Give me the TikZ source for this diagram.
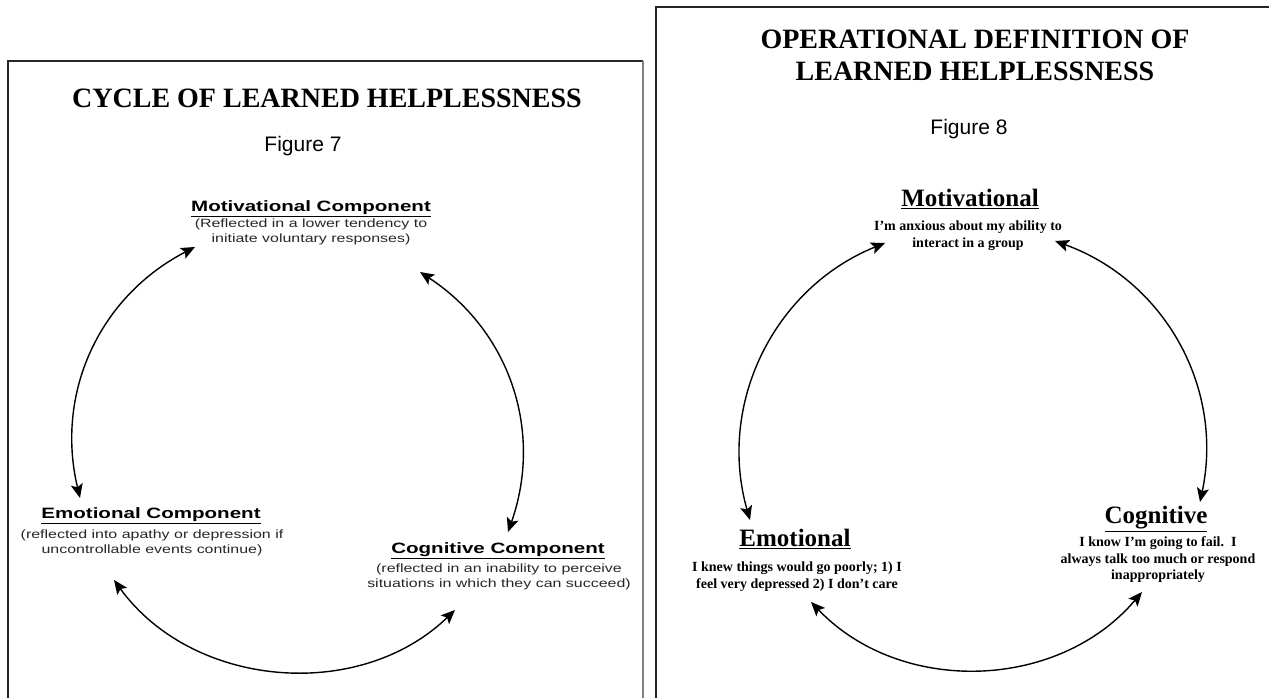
\documentclass[tikz,border=0pt]{standalone}
\usepackage{fontspec}
\usetikzlibrary{arrows.meta}
\setmainfont{Liberation Serif}
\setsansfont{Liberation Sans}
\newfontfamily\headsans[FakeStretch=1.37]{Liberation Sans}
\newfontfamily\bodysans[FakeStretch=1.33]{Liberation Sans}
\newfontfamily\plainsans{Liberation Sans}

\begin{document}
\begin{tikzpicture}[x=1pt,y=1pt,
  every node/.style={inner sep=0pt, outer sep=0pt},
  titletext/.style={font=\bfseries\fontsize{28}{32}\selectfont, align=center, anchor=base},
  figlabel/.style={font=\plainsans\fontsize{21}{21}\selectfont, anchor=base},
  sanshead/.style={font=\headsans\bfseries\fontsize{15}{15}\selectfont, anchor=base},
  sansbody/.style={font=\bodysans\fontsize{12}{15}\selectfont, align=center, anchor=base, text=black!85},
  serifhead/.style={font=\bfseries\fontsize{25}{25}\selectfont, anchor=base},
  serifbody/.style={font=\bfseries\fontsize{14}{16.5}\selectfont, align=center, anchor=base},
  cyc/.style={line width=1.4pt, {Stealth[length=14pt,width=12pt,inset=3pt]}-{Stealth[length=14pt,width=12pt,inset=3pt]}},
]
\useasboundingbox (0,0) rectangle (1269,698);

% panel frames
\draw[line width=1.2pt, black!85] (8,-3) -- (8,637) -- (643,637);
\draw[line width=2pt, black!50] (643,637) -- (643,-3);
\draw[line width=1.3pt, black!85] (656,-3) -- (656,691) -- (1272,691);

% ---------------- Figure 7 ----------------
% (multi-line nodes are placed by the baseline of their last line)
\node[titletext] (t7) at (327,590) {CYCLE OF LEARNED HELPLESSNESS};
\node[figlabel] (f7) at (303,546) {Figure 7};

\node[sanshead] (mh7) at (311,486) {\underline{Motivational Component}};
\node[sansbody] (mb7) at (311,455) {(Reflected in a lower tendency to\\initiate voluntary responses)};

\node[sanshead] (eh7) at (151,179) {\underline{Emotional Component}};
\node[sansbody] (eb7) at (152,144) {(reflected into apathy or depression if\\uncontrollable events continue)};

\node[sanshead] (ch7) at (498,144) {\underline{Cognitive Component}};
\node[sansbody] (cb7) at (499,110) {(reflected in an inability to perceive\\situations in which they can succeed)};

\coordinate (m7l) at (195,451);
\coordinate (m7r) at (420,426);
\coordinate (e7t) at (80,200);
\coordinate (c7t) at (508,166);
\coordinate (e7b) at (114,118);
\coordinate (c7b) at (455,88);

\draw[cyc] (m7l) to[bend right=38] (e7t);
\draw[cyc] (m7r) to[bend left=38] (c7t);
\draw[cyc] (e7b) to[bend right=49] (c7b);

% ---------------- Figure 8 ----------------
\node[titletext] (t8) at (975,617) {OPERATIONAL DEFINITION OF\\LEARNED HELPLESSNESS};
\node[figlabel] (f8) at (969,563) {Figure 8};

\node[serifhead] (mh8) at (970,491) {\underline{Motivational}};
\node[serifbody] (mb8) at (968,450.5) {I'm anxious about my ability to\\interact in a group};

\node[serifhead] (eh8) at (795,151) {\underline{Emotional}};
\node[serifbody] (eb8) at (797,109.5) {I knew things would go poorly; 1) I\\feel very depressed 2) I don't care};

\node[serifhead] (ch8) at (1156,174) {\underline{Cognitive}};
\node[serifbody] (cb8) at (1158,118) {I know I'm going to fail.\ \ I\\always talk too much or respond\\inappropriately};

\coordinate (m8l) at (885,455);
\coordinate (m8r) at (1055,457);
\coordinate (e8t) at (750,178);
\coordinate (c8t) at (1200,196);
\coordinate (e8b) at (811,96);
\coordinate (c8b) at (1142,106);

\draw[cyc] (m8l) to[bend right=42] (e8t);
\draw[cyc] (m8r) to[bend left=41] (c8t);
\draw[cyc] (e8b) to[bend right=48] (c8b);

\end{tikzpicture}
\end{document}
